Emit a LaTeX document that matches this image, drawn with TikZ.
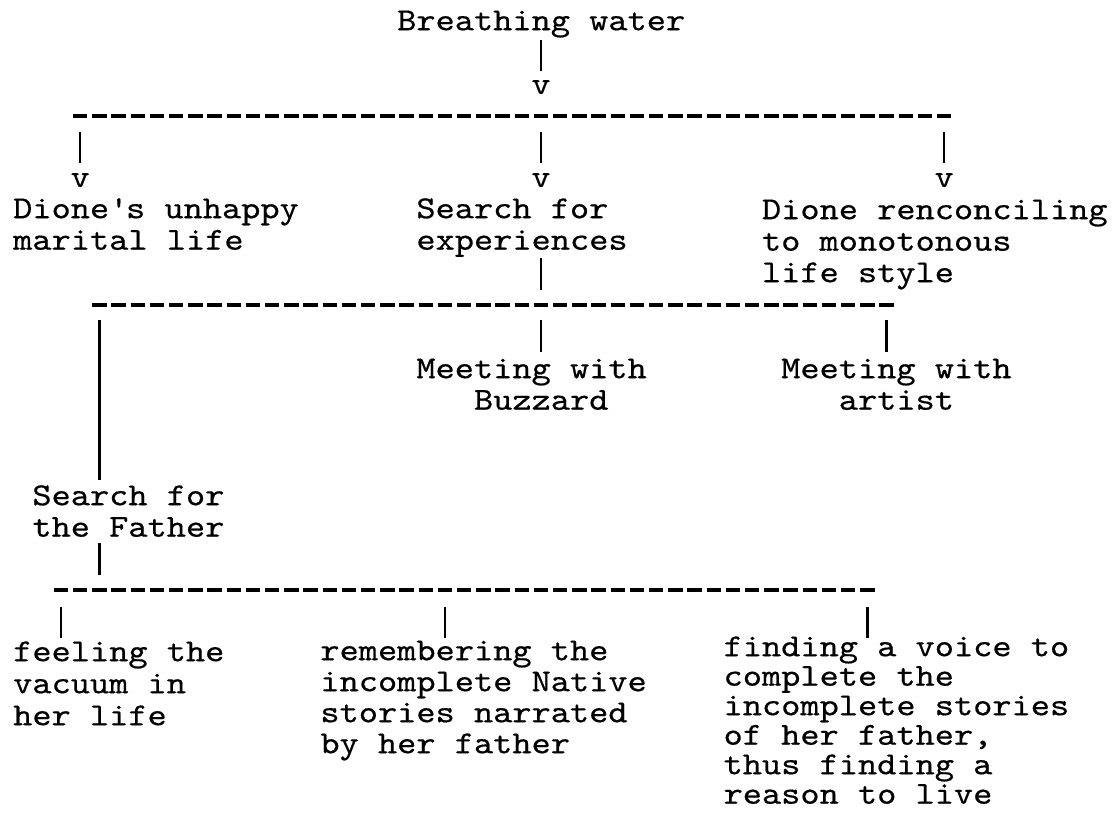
\documentclass[tikz,border=0pt]{standalone}
\usepackage{fontspec}
\setmonofont{lmmono10-regular}[Extension=.otf,FakeStretch=1.143,FakeBold=0.5]
\newcommand\CX[1]{13+19.2*(#1)}
\newcommand\st{\rule{0pt}{26pt}}
\begin{document}
\begin{tikzpicture}[x=1pt,y=-1pt,
  txt/.style={font=\ttfamily\fontsize{32}{31.5}\selectfont, inner sep=0pt, anchor=north west, align=left},
  vtip/.style={font=\ttfamily\fontsize{32}{31.5}\selectfont, inner sep=0pt, anchor=base},
  bar/.style={line width=2.5pt},
  hyph/.style={line width=3.2pt, dash pattern=on 14.4pt off 4.8pt}]
\fill[white] (0,0) rectangle (1114,818);
\useasboundingbox (0,0) rectangle (1114,818);

% connectors on the typewriter grid: name, column, top y, bottom y
\newcommand\vb[4]{%
  \coordinate (#1t) at ({\CX{#2+0.5}},#3);
  \coordinate (#1b) at ({\CX{#2+0.5}},#4);
  \draw[bar] (#1t) -- (#1b);}
% dashed rule: name, first column, last column, y
\newcommand\hd[4]{%
  \coordinate (#1l) at ({\CX{#2}+2.4},#4);
  \coordinate (#1r) at ({\CX{#3+1}-2.4},#4);
  \draw[hyph] (#1l) -- (#1r);}
% text: options, name, column, first baseline y, text
\newcommand\tn[5][]{\node[txt,#1] (#2) at ({\CX{#3}},{#4-26}) {\st#5};}

% texts
\tn{bw}{20}{30}{Breathing water}
\tn{d1}{0}{218}{Dione\textquotesingle s unhappy\\marital life}
\tn{s1}{21}{218}{Search for\\experiences}
\tn{r1}{39}{219}{Dione renconciling\\to monotonous\\life style}
\tn{mb}{21}{378}{Meeting with\\\phantom{xxx}Buzzard}
\tn{ma}{40}{378}{Meeting with\\\phantom{xxx}artist}
\tn{sf}{1}{505}{Search for\\the Father}
\tn[font=\ttfamily\fontsize{32}{32}\selectfont]{fe}{0}{661}{feeling the\\vacuum in\\her life}
\tn[font=\ttfamily\fontsize{32}{31}\selectfont]{re}{16}{660}{remembering the\\incomplete Native\\stories narrated\\by her father}
\tn[font=\ttfamily\fontsize{32}{29.5}\selectfont]{fi}{37}{656}{finding a voice to\\complete the\\incomplete stories\\of her father,\\thus finding a\\reason to live}

% typed arrow tips
\node[vtip] (v0) at ({\CX{27.5}},94) {v};
\node[vtip] (v1) at ({\CX{3.5}},187) {v};
\node[vtip] (v2) at ({\CX{27.5}},187) {v};
\node[vtip] (v3) at ({\CX{48.5}},187) {v};

% vertical bars
\vb{a}{27}{40}{71}
\vb{b}{3}{132}{163}
\vb{c}{27}{132}{163}
\vb{d}{48}{132}{163}
\vb{e}{27}{258}{290}
\vb{f}{4}{320}{480}
\vb{g}{27}{320}{352}
\vb{h}{45}{320}{352}
\vb{i}{4}{543}{575}
\vb{j}{2}{607}{638}
\vb{k}{22}{607}{638}
\vb{l}{44}{607}{638}

% dashed rules
\hd{L1}{3}{48}{116}
\hd{L2}{4}{45}{305}
\hd{L3}{2}{44}{590}
\end{tikzpicture}
\end{document}
